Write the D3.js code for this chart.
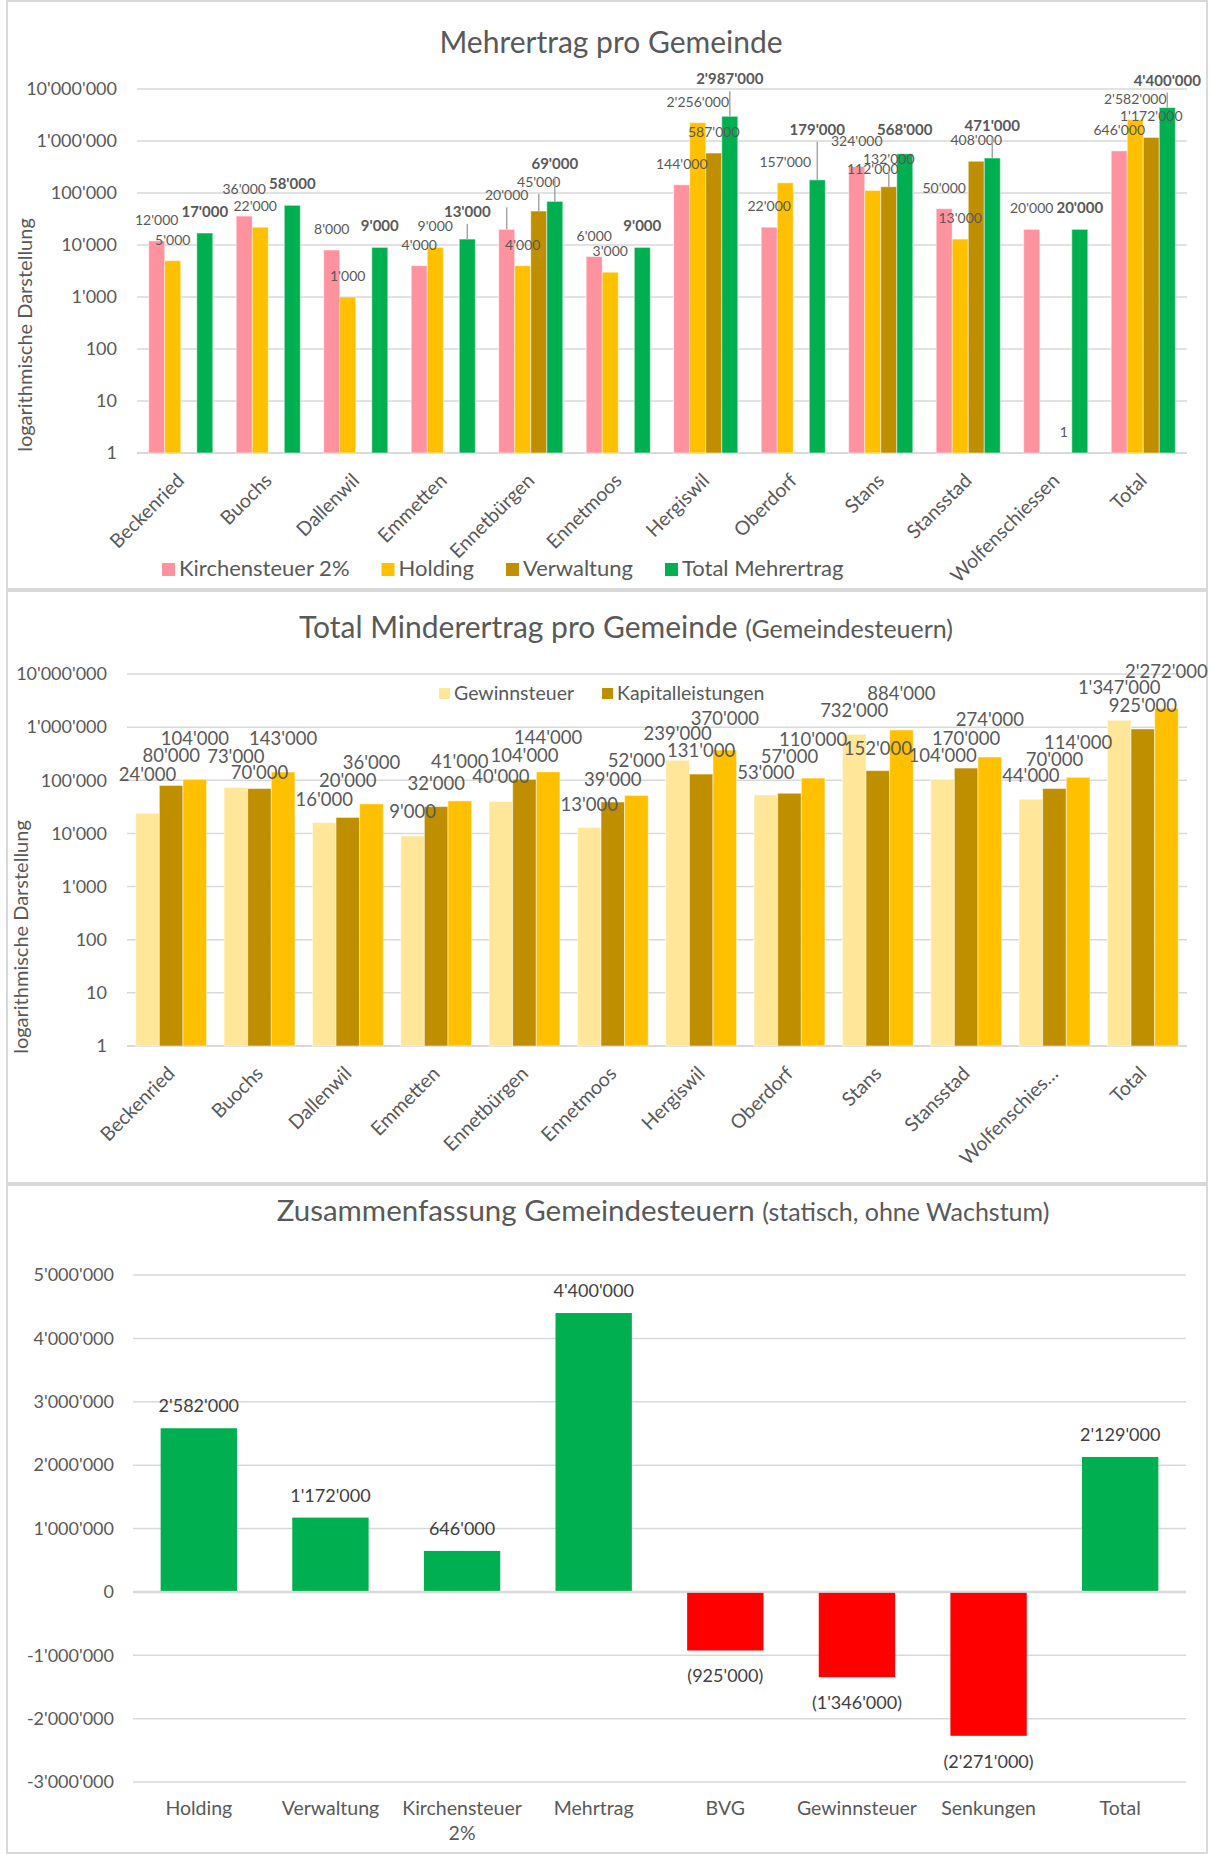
<!DOCTYPE html>
<html>
<head>
<meta charset="utf-8">
<script src="https://cdn.jsdelivr.net/npm/d3@7"></script>
<style>
  body { margin: 0; background: #fff; }
  svg text { font-family: Lato, "Open Sans", sans-serif; fill: #595959; }
</style>
</head>
<body>
<svg id="chart" width="1211" height="1854"></svg>
<script>
// ---- Data: Mehrertrag pro Gemeinde ----
const gemeinden = ["Beckenried", "Buochs", "Dallenwil", "Emmetten", "Ennetbürgen", "Ennetmoos",
  "Hergiswil", "Oberdorf", "Stans", "Stansstad", "Wolfenschiessen", "Total"];
const series1 = ["Kirchensteuer 2%", "Holding", "Verwaltung", "Total Mehrertrag"];
const kirchensteuer = [12000, 36000, 8000, 4000, 20000, 6000, 144000, 22000, 324000, 50000, 20000, 646000];
const holding = [5000, 22000, 1000, 9000, 4000, 3000, 2256000, 157000, 112000, 13000, 0, 2582000];
const verwaltung = [0, 0, 0, 0, 45000, 0, 587000, 0, 132000, 408000, 1, 1172000];
const totalMehrertrag = [17000, 58000, 9000, 13000, 69000, 9000, 2987000, 179000, 568000, 471000, 20000, 4400000];

// ---- Data: Total Minderertrag pro Gemeinde ----
const gemeinden2 = ["Beckenried", "Buochs", "Dallenwil", "Emmetten", "Ennetbürgen", "Ennetmoos",
  "Hergiswil", "Oberdorf", "Stans", "Stansstad", "Wolfenschies…", "Total"];
const series2 = ["Gewinnsteuer", "Kapitalleistungen", "Total"];
const gewinnsteuer = [24000, 73000, 16000, 9000, 40000, 13000, 239000, 53000, 732000, 104000, 44000, 1347000];
const kapitalleistungen = [80000, 70000, 20000, 32000, 104000, 39000, 131000, 57000, 152000, 170000, 70000, 925000];
const totalMinderertrag = [104000, 143000, 36000, 41000, 144000, 52000, 370000, 110000, 884000, 274000, 114000, 2272000];

// ---- Data: Zusammenfassung ----
const kategorien3 = ["Holding", "Verwaltung", "Kirchensteuer 2%", "Mehrtrag", "BVG", "Gewinnsteuer", "Senkungen", "Total"];
const werte3 = [2582000, 1172000, 646000, 4400000, -925000, -1346000, -2271000, 2129000];

const logTicks = [1, 10, 100, 1000, 10000, 100000, 1000000, 10000000];
const linTicks = [-3000000, -2000000, -1000000, 0, 1000000, 2000000, 3000000, 4000000, 5000000];

// label nudges (extra lift in px above the default spot), as Excel placed them
const lift1 = [
  [0, 6, 0, 0, 13, 0, 0, 0, 4, 0, 0, 0],
  [0, 0, 0, 0, 0, 0, 0, 0, 0, 0, 0, 0],
  [0, 0, 0, 0, 8, 0, 0, 0, 7, 0, 0, 0],
  [0, 0, 0, 6, 16, 0, 16, 29, 3, 11, 0, 6]
];
const leader1 = [
  [0, 0, 0, 0, 1, 0, 0, 0, 0, 0, 0, 0],
  [0, 0, 0, 0, 0, 0, 0, 0, 0, 0, 0, 0],
  [0, 0, 0, 0, 1, 0, 0, 0, 1, 0, 0, 0],
  [0, 0, 0, 1, 1, 0, 1, 1, 0, 1, 0, 1]
];
const shift1 = [[], [0, -5], [], []];
const lift2 = [
  [15, 8, 0, 1, 1, -1, 3, -1, 0, 0, 0, 9],
  [6, -7, 13, 0, 0, -1, 0, 13, -1, 6, 6, 0],
  [17, 10, 18, 16, 11, 11, 8, 15, 13, 14, 11, 13]
];

const colors1 = ["#ff929f", "#ffc000", "#bf8f00", "#00b050"];
const colors2 = ["#ffe699", "#bf8f00", "#ffc000"];
const gridColor = "#d9d9d9";

const fmt = v => d3.format(",")(v).replace(/,/g, "'").replace("\u2212", "-");
const svg = d3.select("#chart");

// panel frames
[[7, 1, 1200, 588], [7, 591, 1200, 592], [7, 1185, 1200, 668]].forEach(p => {
  svg.append("rect").attr("x", p[0]).attr("y", p[1]).attr("width", p[2]).attr("height", p[3])
    .attr("fill", "#fff").attr("stroke", gridColor).attr("stroke-width", 2);
});

function logChart(o) {
  const g = svg.append("g");
  const x0 = d3.scaleBand().domain(o.cats).range([o.left, o.right]);
  const x1 = d3.scaleBand().domain(d3.range(o.values.length)).range([0, x0.bandwidth()])
    .paddingOuter(o.outer);
  const y = d3.scaleLog().domain([1, 1e7]).range([o.bottom, o.top]);

  g.selectAll(".grid").data(logTicks).join("line")
    .attr("x1", o.left).attr("x2", o.right)
    .attr("y1", d => y(d)).attr("y2", d => y(d))
    .attr("stroke", gridColor).attr("stroke-width", d => d === 1 ? 2.2 : 1.5);

  g.selectAll(".tick").data(logTicks).join("text")
    .attr("x", o.left - 20).attr("y", d => y(d)).attr("dy", "0.35em")
    .attr("text-anchor", "end").style("font-size", "18px").text(fmt);

  o.values.forEach((vals, si) => {
    const pts = vals.map((v, i) => ({ v, i, cat: o.cats[i] }));
    g.append("g").selectAll("rect").data(pts.filter(d => d.v > 1)).join("rect")
      .attr("x", d => x0(d.cat) + x1(si))
      .attr("width", x1.bandwidth())
      .attr("y", d => y(d.v))
      .attr("height", d => y(1) - y(d.v))
      .attr("fill", o.colors[si])
      .attr("stroke", "#fff").attr("stroke-opacity", 0.5).attr("stroke-width", 1);
  });

  o.values.forEach((vals, si) => {
    vals.forEach((v, i) => {
      if (v <= 0) return;
      const cx = x0(o.cats[i]) + x1(si) + x1.bandwidth() / 2;
      const base = y(v) - o.gap - o.lift[si][i];
      if (o.leader && o.leader[si][i]) {
        g.append("line").attr("x1", cx).attr("x2", cx)
          .attr("y1", base + 7).attr("y2", y(v))
          .attr("stroke", "#a6a6a6").attr("stroke-width", 1.5);
      }
      const dx = (o.shift && o.shift[si][i]) || 0;
      const bold = o.boldSeries === si;
      g.append("text").attr("x", cx + dx).attr("y", base)
        .attr("text-anchor", "middle")
        .style("font-size", (bold ? o.labelSize + 1 : o.labelSize) + "px")
        .style("font-weight", bold ? "bold" : "normal")
        .text(fmt(v));
    });
  });

  g.selectAll(".cat").data(o.cats).join("text")
    .attr("transform", d => `translate(${x0(d) + x0.bandwidth() / 2},${o.bottom + 24}) rotate(-45)`)
    .attr("text-anchor", "end").attr("dy", "0.35em")
    .style("font-size", "19.5px").text(d => d);

  g.append("text")
    .attr("transform", `translate(${o.axisTitleX},${o.axisTitleY}) rotate(-90)`)
    .attr("text-anchor", "middle").style("font-size", "20px")
    .text("logarithmische Darstellung");
  return g;
}

// ---- Chart 1 ----
svg.append("text").attr("x", 611).attr("y", 53).attr("text-anchor", "middle")
  .style("font-size", "30px").text("Mehrertrag pro Gemeinde");

logChart({
  cats: gemeinden, values: [kirchensteuer, holding, verwaltung, totalMehrertrag],
  colors: colors1, left: 137, right: 1187, top: 89, bottom: 453, outer: 0.73,
  gap: 16, lift: lift1, leader: leader1, shift: shift1, labelSize: 14, boldSeries: 3,
  axisTitleX: 32, axisTitleY: 335
});

// legend chart 1
(function () {
  const lg = svg.append("g");
  let x = 162;
  series1.forEach((s, i) => {
    lg.append("rect").attr("x", x).attr("y", 563).attr("width", 13).attr("height", 13).attr("fill", colors1[i]);
    const t = lg.append("text").attr("x", x + 17).attr("y", 576).style("font-size", "22px").text(s);
    x += 17 + t.node().getComputedTextLength() + 32;
  });
})();

// ---- Chart 2 ----
(function () {
  const t = svg.append("text").attr("x", 626).attr("y", 638).attr("text-anchor", "middle");
  t.append("tspan").style("font-size", "30px").text("Total Minderertrag pro Gemeinde ");
  t.append("tspan").style("font-size", "25px").text("(Gemeindesteuern)");
})();

logChart({
  cats: gemeinden2, values: [gewinnsteuer, kapitalleistungen, totalMinderertrag],
  colors: colors2, left: 127, right: 1187, top: 674, bottom: 1046, outer: 0.37,
  gap: 17, lift: lift2, labelSize: 18.5, boldSeries: -1, axisTitleX: 28, axisTitleY: 937
});

// legend chart 2
(function () {
  const lg = svg.append("g");
  let x = 439;
  series2.slice(0, 2).forEach((s, i) => {
    lg.append("rect").attr("x", x).attr("y", 688).attr("width", 11).attr("height", 11).attr("fill", colors2[i]);
    const t = lg.append("text").attr("x", x + 15).attr("y", 700).style("font-size", "19.5px").text(s);
    x += 15 + t.node().getComputedTextLength() + 28;
  });
})();

// ---- Chart 3 ----
(function () {
  const t = svg.append("text").attr("x", 663).attr("y", 1221).attr("text-anchor", "middle");
  t.append("tspan").style("font-size", "29.5px").text("Zusammenfassung Gemeindesteuern ");
  t.append("tspan").style("font-size", "25px").text("(statisch, ohne Wachstum)");

  const g = svg.append("g");
  const left = 133, right = 1186;
  const x = d3.scaleBand().domain(kategorien3).range([left, right]).paddingInner(0.42).paddingOuter(0.21);
  const y = d3.scaleLinear().domain([-3000000, 5000000]).range([1782, 1275]);

  g.selectAll(".grid").data(linTicks).join("line")
    .attr("x1", left).attr("x2", right)
    .attr("y1", d => y(d)).attr("y2", d => y(d))
    .attr("stroke", gridColor).attr("stroke-width", d => d === 0 ? 2.5 : 1.5);

  g.selectAll(".tick").data(linTicks).join("text")
    .attr("x", left - 19).attr("y", d => y(d)).attr("dy", "0.35em")
    .attr("text-anchor", "end").style("font-size", "18px").text(fmt);

  g.selectAll("rect").data(werte3).join("rect")
    .attr("x", (d, i) => x(kategorien3[i]))
    .attr("width", x.bandwidth())
    .attr("y", d => d >= 0 ? y(d) : y(0) + 1)
    .attr("height", d => Math.abs(y(d) - y(0)) - 1)
    .attr("fill", d => d >= 0 ? "#00b050" : "#ff0000");

  g.selectAll(".lbl").data(werte3).join("text")
    .attr("x", (d, i) => x(kategorien3[i]) + x.bandwidth() / 2)
    .attr("y", d => d >= 0 ? y(d) - 16 : y(d) + 19)
    .attr("dy", d => d >= 0 ? 0 : "0.71em")
    .attr("text-anchor", "middle").style("font-size", "18px").style("fill", "#404040")
    .text(d => d >= 0 ? fmt(d) : "(" + fmt(-d) + ")");

  g.selectAll(".cat").data(kategorien3).join("text")
    .attr("x", d => x(d) + x.bandwidth() / 2).attr("y", 1815)
    .attr("text-anchor", "middle").style("font-size", "19.5px")
    .each(function (d) {
      const el = d3.select(this);
      el.text(d);
      if (this.getComputedTextLength() > x.step() - 4) {
        const words = d.split(" ");
        el.text(null);
        el.append("tspan").attr("x", x(d) + x.bandwidth() / 2).text(words.slice(0, -1).join(" "));
        el.append("tspan").attr("x", x(d) + x.bandwidth() / 2).attr("dy", "1.3em").text(words[words.length - 1]);
      }
    });
})();
</script>
</body>
</html>
